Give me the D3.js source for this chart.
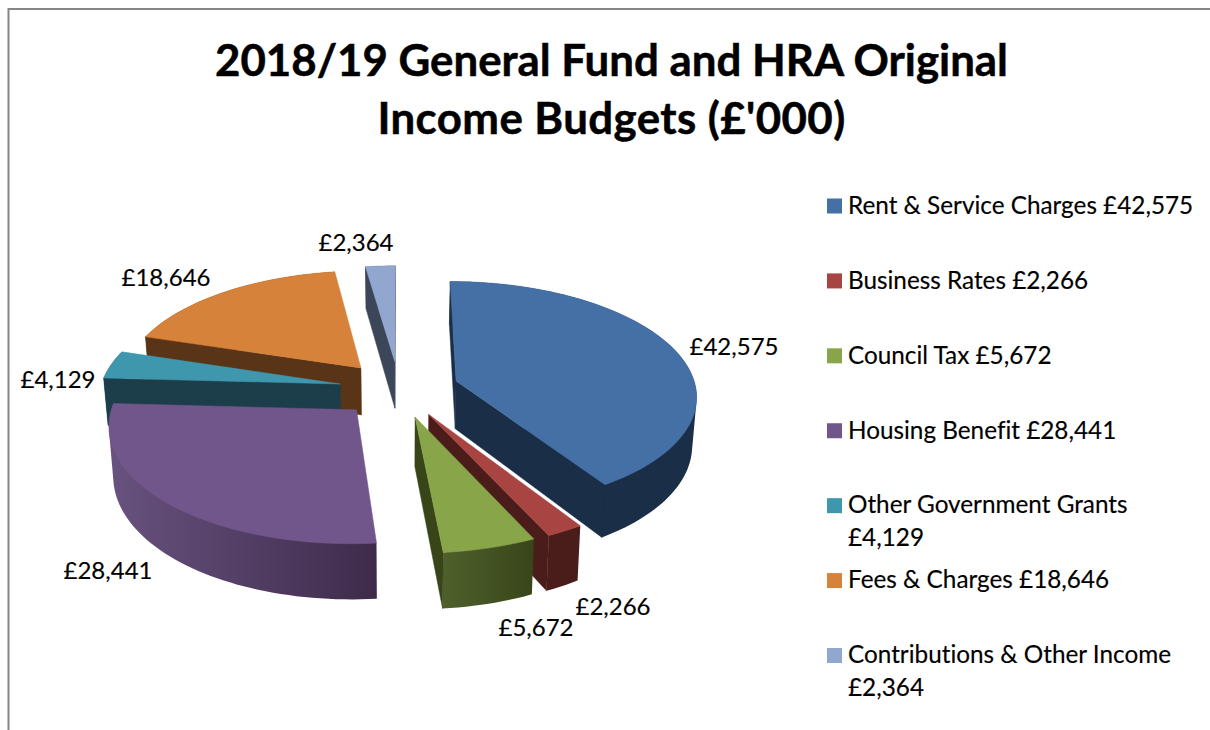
<!DOCTYPE html>
<html><head><meta charset="utf-8">
<script src="https://cdn.jsdelivr.net/npm/d3@7"></script>
<style>
html,body{margin:0;padding:0;background:#fff;overflow:hidden}
text{font-family:Lato,"Open Sans",sans-serif;fill:#000;font-variant-ligatures:none}
</style></head><body>
<svg id="c" width="1210" height="730"></svg>
<script>
const categories=["Rent & Service Charges","Business Rates","Council Tax","Housing Benefit","Other Government Grants","Fees & Charges","Contributions & Other Income"];
const values=[42575,2266,5672,28441,4129,18646,2364];
const titleLines=["2018/19 General Fund and HRA Original","Income Budgets (£'000)"];
const titleSpacing=[0,0.42];
const topColors=["#4470a6","#a84441","#88a54a","#71568b","#3f97ae","#d7823b","#91a7cf"];
const sideFrom=["#1b2e47","#4a1c1a","#4f602c","#68527f","#1b3e4a","#5a3416","#3b4659"];
const sideTo=["#1b2e47","#4a1c1a","#384519","#3e2b4b","#1b3e4a","#5a3416","#3b4659"];
const drawOrder=[6,5,4,0,1,2,3];
const legendBreak=[false,false,false,false,true,false,true];
const labelCenters=[[734,347],[613,607],[536,628],[108,571],[58,380],[166,278],[356,243]];

// projection of the exploded pie (unit radius) onto the page
const cam={cx:399,cy:389,a:240,b:113,p:0.117,depth:48,shrink:0.985,explode:0.25};
function project(X,Y,low){
  const w=1+cam.p*Y;
  let x=cam.a*X/w, y=-cam.b*Y/w;
  if(low){x*=cam.shrink;y+=cam.depth/w;}
  return [cam.cx+x,cam.cy+y];
}
const money=d3.format(",");
const svg=d3.select("#c");
const defs=svg.append("defs");

svg.append("line").attr("x1",8).attr("y1",9).attr("x2",1210).attr("y2",9).attr("stroke","#868686").attr("stroke-width",2);
svg.append("line").attr("x1",8.5).attr("y1",8).attr("x2",8.5).attr("y2",730).attr("stroke","#868686").attr("stroke-width",2);

svg.selectAll("text.title").data(titleLines).join("text").attr("class","title")
  .attr("x",611.5).attr("y",(d,i)=>75.5+i*58).attr("text-anchor","middle")
  .attr("letter-spacing",(d,i)=>titleSpacing[i])
  .attr("font-size",43.8).attr("font-weight",700).attr("stroke","#000").attr("stroke-width",.5).text(d=>d);

const arcs=d3.pie().sort(null)(values);
const line=d3.line();
const chart=svg.append("g");

function solid(i){
  const a=arcs[i], mid=(a.startAngle+a.endAngle)/2;
  const ox=cam.explode*Math.sin(mid), oy=cam.explode*Math.cos(mid);
  const n=Math.max(4,Math.ceil((a.endAngle-a.startAngle)/0.03));
  const rim=d3.range(n+1).map(k=>{
    const t=a.startAngle+(a.endAngle-a.startAngle)*k/n;
    return [ox+Math.sin(t),oy+Math.cos(t)];
  });
  const up=rim.map(p=>project(p[0],p[1],false));
  const lo=rim.map(p=>project(p[0],p[1],true));
  const ap=project(ox,oy,false), apLo=project(ox,oy,true);
  const g=chart.append("g");
  const gid="side"+i;
  const xr=d3.extent(up.concat(lo),p=>p[0]);
  const gr=defs.append("linearGradient").attr("id",gid).attr("gradientUnits","userSpaceOnUse")
    .attr("x1",xr[0]).attr("x2",xr[1]).attr("y1",0).attr("y2",0);
  gr.append("stop").attr("offset",0).attr("stop-color",sideFrom[i]);
  gr.append("stop").attr("offset",1).attr("stop-color",sideTo[i]);
  const wall=sideTo[i];
  // outer wall: the whole swept rim, as a single hull the top face then trims
  g.append("path").attr("d",line(d3.polygonHull(up.concat(lo)))+"Z").attr("fill",`url(#${gid})`);
  // radial walls: only the ones that face the viewer
  const startWall=[ap,up[0],lo[0],apLo], endWall=[ap,up[n],lo[n],apLo];
  if(d3.polygonArea(startWall)>0) g.append("path").attr("d",line(startWall)+"Z").attr("fill",wall).attr("stroke",wall).attr("stroke-width",.5);
  if(d3.polygonArea(endWall)<0) g.append("path").attr("d",line(endWall)+"Z").attr("fill",wall).attr("stroke",wall).attr("stroke-width",.5);
  g.append("path").attr("d",line([ap].concat(up))+"Z").attr("fill",topColors[i]).attr("stroke",topColors[i]).attr("stroke-width",.5);
}
drawOrder.forEach(solid);

svg.selectAll("text.lab").data(values).join("text").attr("class","lab")
  .attr("x",(d,i)=>labelCenters[i][0]).attr("y",(d,i)=>labelCenters[i][1]+8)
  .attr("text-anchor","middle").attr("font-size",24).attr("stroke","#000").attr("stroke-width",.15).text(d=>"£"+money(d));

const rowY=d3.scaleLinear().domain([0,6]).range([206,655.5]);
const legend=svg.append("g").attr("stroke","#000").attr("stroke-width",.15);
categories.forEach((c,i)=>{
  const y=rowY(i), val="£"+money(values[i]);
  legend.append("rect").attr("x",827).attr("y",y-7.5).attr("width",15).attr("height",15).attr("fill",topColors[i]).attr("stroke","none");
  const t=legend.append("text").attr("x",848).attr("y",y+7.8).attr("font-size",24.3);
  if(legendBreak[i]){
    t.text(c);
    legend.append("text").attr("x",848).attr("y",y+40).attr("font-size",24.3).text(val);
  } else t.text(c+" "+val);
});
</script>
</body></html>
